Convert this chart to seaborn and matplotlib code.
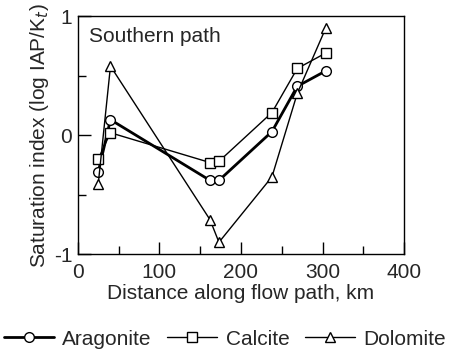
import pandas as pd
import matplotlib.pyplot as plt
import seaborn as sns
from matplotlib.ticker import MultipleLocator

sns.set_style("ticks")
plt.rcParams['font.family'] = ['Liberation Sans', 'DejaVu Sans']
plt.rcParams.update({'font.size': 15, 'axes.unicode_minus': False})

# distance along flow path, km
distance = [25, 40, 162, 173, 238, 269, 304]
aragonite = [-0.31, 0.13, -0.38, -0.38, 0.03, 0.41, 0.54]
calcite = [-0.20, 0.02, -0.23, -0.22, 0.19, 0.56, 0.69]
dolomite = [-0.41, 0.58, -0.71, -0.90, -0.35, 0.35, 0.90]

fig = plt.figure(figsize=(4.5, 3.58), dpi=100)
ax = fig.add_axes([0.173, 0.29, 0.725, 0.665])

series = [
    ('Aragonite', aragonite, 'o', 2.0, 7),
    ('Calcite', calcite, 's', 1.0, 6.5),
    ('Dolomite', dolomite, '^', 1.0, 7.5),
]
for name, vals, mk, lw, ms in series:
    df = pd.DataFrame({'x': distance, 'y': vals})
    sns.lineplot(data=df, x='x', y='y', ax=ax, color='black', linewidth=lw,
                 marker=mk, markersize=ms, markerfacecolor='white',
                 markeredgecolor='black', markeredgewidth=1.0, label=name)

ax.set_xlim(0, 400)
ax.set_ylim(-1, 1)
ax.xaxis.set_major_locator(MultipleLocator(100))
ax.xaxis.set_minor_locator(MultipleLocator(50))
ax.yaxis.set_major_locator(MultipleLocator(1))
ax.yaxis.set_minor_locator(MultipleLocator(0.5))
ax.tick_params(which='major', direction='in', length=9, width=1, color='black',
               labelsize=15)
ax.tick_params(axis='x', which='major', pad=6)
ax.tick_params(axis='y', which='major', pad=4)
ax.tick_params(which='minor', direction='in', length=6, width=1, color='black')
for sp in ax.spines.values():
    sp.set_color('black')
    sp.set_linewidth(1)

ax.set_xlabel('Distance along flow path, km', fontsize=15, labelpad=2)
ax.set_ylabel('Saturation index (log IAP/K$_t$)', fontsize=15, labelpad=2)
ax.text(0.035, 0.955, 'Southern path', transform=ax.transAxes, fontsize=15,
        va='top', ha='left')

handles, labels = ax.get_legend_handles_labels()
ax.get_legend().remove()
fig.legend(handles, labels, loc='center', bbox_to_anchor=(0.5, 0.053), ncol=3,
           frameon=False, handlelength=2.4, columnspacing=0.75,
           handletextpad=0.4, fontsize=15, borderpad=0, borderaxespad=0)

plt.savefig('out.png', dpi=100)
